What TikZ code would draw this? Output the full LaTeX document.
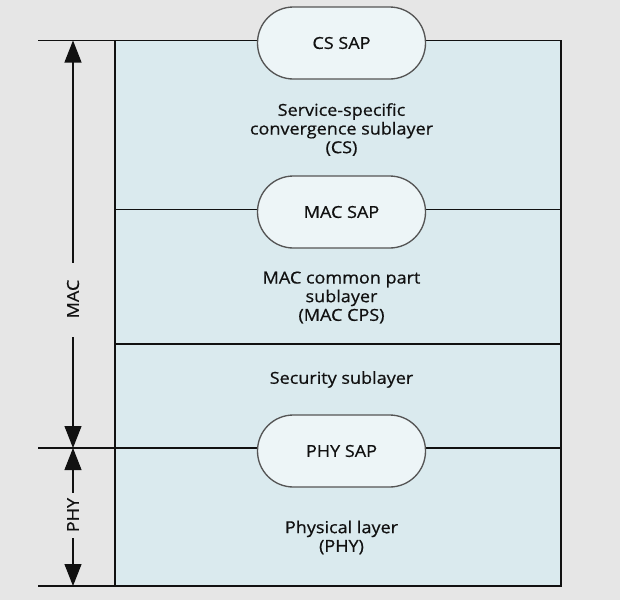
\documentclass[tikz,border=0pt]{standalone}
\usepackage{fontspec}
\setmainfont{Open Sans}[FakeStretch=1.09,FakeBold=0.6]
\usetikzlibrary{arrows.meta}
\definecolor{bgc}{HTML}{E6E6E6}
\definecolor{boxfill}{HTML}{DAEAEE}
\definecolor{pillfill}{HTML}{EDF5F7}
\definecolor{pillline}{HTML}{555555}
\definecolor{ink}{HTML}{111111}
\newcommand{\dfs}{\fontsize{12.4pt}{14pt}\selectfont}
\tikzset{dimtip/.tip={Triangle[width=12.75pt,length=16.5pt]}}
\begin{document}
\begin{tikzpicture}[x=0.75pt,y=-0.75pt,line width=0.75pt,
  pill/.style={draw=pillline,fill=pillfill,line width=1pt,rounded corners=26.9pt,
    minimum width=126pt,minimum height=54pt,inner sep=0pt,font=\dfs,text=ink},
  lbl/.style={align=center,font=\dfs,text=ink,inner sep=0pt},
  rule/.style={draw=ink,line width=0.8pt},
  dim/.style={draw=ink,line width=0.8pt}]
\fill[bgc] (0,0) rectangle (620,600);
\useasboundingbox (0,0) rectangle (620,600);
% layer box
\coordinate (boxTL) at (115,40.5);
\coordinate (boxBR) at (561,586);
\fill[boxfill] (boxTL) rectangle (boxBR);
\coordinate (topL) at (38,40.5);
\coordinate (topR) at (561,40.5);
\coordinate (macL) at (115,209.5);
\coordinate (macR) at (561,209.5);
\coordinate (secL) at (115,344);
\coordinate (secR) at (561,344);
\coordinate (phyL) at (38,448);
\coordinate (phyR) at (561,448);
\coordinate (botL) at (38,586);
\coordinate (botR) at (561,586);
\coordinate (leftT) at (115,40.5);
\coordinate (leftB) at (115,586);
\draw[rule] (topL) -- (topR) -- (botR) -- (botL);
\draw[rule] (leftT) -- (leftB);
\draw[rule] (macL) -- (macR);
\draw[rule] (secL) -- (secR);
\draw[rule] (phyL) -- (phyR);
% SAP pills
\node[pill] (cssap) at (341.5,43) {CS SAP};
\node[pill] (macsap) at (341.5,212) {MAC SAP};
\node[pill] (physap) at (341.5,451) {PHY SAP};
% layer texts
\node[lbl] (cstext) at (341.5,129.5) {Service-specific\\convergence sublayer\\(CS)};
\node[lbl] (mactext) at (341.5,297.5) {MAC common part\\sublayer\\(MAC CPS)};
\node[lbl] (sectext) at (341.5,379.5) {Security sublayer};
\node[lbl] (phytext) at (341.5,537.5) {Physical layer\\(PHY)};
% dimension arrows
\node[lbl,rotate=90] (maclbl) at (73,299) {MAC};
\node[lbl,rotate=90] (phylbl) at (73,515) {PHY};
\coordinate (macTop) at (73,40.5);
\coordinate (macG1) at (73,262.7);
\coordinate (macG2) at (73,337);
\coordinate (macBot) at (73,448);
\coordinate (phyTop) at (73,448);
\coordinate (phyG1) at (73,493);
\coordinate (phyG2) at (73,538);
\coordinate (phyBot) at (73,586);
\draw[dim,{dimtip}-] (macTop) -- (macG1);
\draw[dim,-{dimtip}] (macG2) -- (macBot);
\draw[dim,{dimtip}-] (phyTop) -- (phyG1);
\draw[dim,-{dimtip}] (phyG2) -- (phyBot);
\end{tikzpicture}
\end{document}
